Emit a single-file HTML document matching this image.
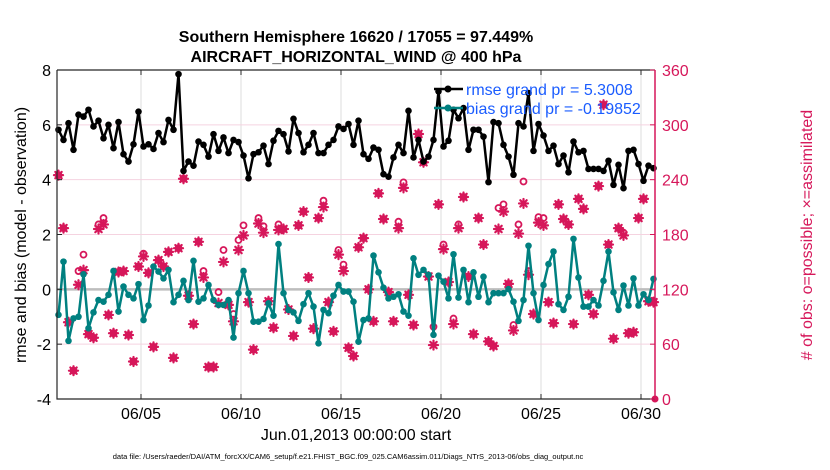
<!DOCTYPE html>
<html><head><meta charset="utf-8"><style>
html,body{margin:0;padding:0;background:#fff;}
svg{display:block;font-family:"Liberation Sans",sans-serif;}
</style></head><body>
<svg id="chart" width="830" height="470" viewBox="0 0 830 470" xmlns="http://www.w3.org/2000/svg">
<text x="356" y="42" text-anchor="middle" font-size="16" font-weight="bold">Southern Hemisphere 16620 / 17055 = 97.449%</text>
<text x="356" y="62" text-anchor="middle" font-size="16" font-weight="bold">AIRCRAFT_HORIZONTAL_WIND @ 400 hPa</text>
<g id="grid"></g>
<g id="marks"></g>
<g id="axes"></g>
<text transform="translate(26,235) rotate(-90)" text-anchor="middle" font-size="16">rmse and bias (model - observation)</text>
<text transform="translate(812,235) rotate(-90)" text-anchor="middle" font-size="16" fill="#d6175a"># of obs: o=possible; ×=assimilated</text>
<text x="356" y="440" text-anchor="middle" font-size="16">Jun.01,2013 00:00:00 start</text>
<text x="348" y="459" text-anchor="middle" font-size="7.5">data file: /Users/raeder/DAI/ATM_forcXX/CAM6_setup/f.e21.FHIST_BGC.f09_025.CAM6assim.011/Diags_NTrS_2013-06/obs_diag_output.nc</text>
<g>
<line x1="434" y1="89" x2="463" y2="89" stroke="#000" stroke-width="2.5"/>
<circle cx="448" cy="89" r="3.5" fill="#000"/>
<text x="466" y="95" font-size="16" fill="#1a5cff">rmse grand pr = 5.3008</text>
<line x1="434" y1="108" x2="463" y2="108" stroke="#008080" stroke-width="2.5"/>
<circle cx="448" cy="108" r="3.5" fill="#008080"/>
<text x="466" y="114" font-size="16" fill="#1a5cff">bias grand pr = -0.19852</text>
</g>
</svg>
<script>
const rmse=[5.82,5.45,6.06,5.09,6.37,6.30,6.55,5.94,6.15,5.51,6.00,5.15,6.10,4.93,4.66,5.29,6.48,5.21,5.29,5.12,5.70,5.37,6.18,5.82,7.85,4.32,4.66,4.51,5.39,5.27,4.84,
5.66,5.05,5.54,4.97,5.45,5.37,4.88,4.05,4.93,5.00,5.24,4.57,5.42,5.78,5.66,5.03,6.22,5.70,5.00,5.27,5.70,4.97,4.97,5.27,5.45,5.94,5.85,6.03,5.27,6.15,
4.93,4.76,5.17,5.09,4.20,4.11,4.81,5.27,4.97,6.51,4.81,5.45,4.66,4.84,5.45,7.22,5.21,5.42,6.55,6.24,6.61,5.09,5.82,5.82,5.57,3.91,6.10,6.06,5.27,4.84,
4.18,6.06,5.94,7.16,5.05,6.03,5.61,5.05,5.24,4.57,4.88,4.27,5.39,5.00,5.05,4.39,4.39,4.39,4.32,4.69,3.81,4.54,3.69,5.05,5.09,4.57,3.96,4.51,4.42];
const bias=[-0.93,1.01,-1.88,-1.06,-1.00,0.55,-1.42,-0.84,-0.39,-0.45,-0.20,0.67,-0.81,0.10,-0.20,-0.33,0.19,-1.12,-0.59,0.83,0.65,0.40,0.71,-0.47,-0.20,0.31,-0.39,1.04,-0.45,-0.33,0.16,
-0.39,-0.57,-0.57,-0.39,-1.76,-0.14,0.67,-0.14,-1.18,-1.18,-1.08,-0.51,-0.96,1.65,-0.14,-0.75,-0.84,-1.15,-0.54,-0.14,-0.63,-1.97,-0.75,-0.87,-0.23,0.16,-0.08,-0.08,-0.45,-1.91,
-1.12,-1.06,1.23,0.62,0.06,-0.33,-0.27,-0.18,-0.81,-0.96,1.13,0.53,0.71,0.53,-1.66,0.50,0.28,-0.33,1.28,-0.30,0.71,-0.47,0.62,-0.27,0.46,-0.47,-0.14,-0.14,-0.14,0.01,
-0.45,-1.15,-0.39,1.59,-0.14,-1.12,0.16,0.92,1.38,-0.54,-0.75,-0.27,1.84,0.43,-0.63,-0.63,-0.39,-0.59,0.31,1.38,-0.11,-0.75,0.14,-0.59,0.40,-0.59,-0.18,-0.39,0.38];
const nPossible=[245,187,84,31,140,158,71,67,191,198,92,72,139,140,70,41,145,159,138,57,152,145,161,45,165,241,113,82,172,140,35,
35,117,163,103,93,174,190,106,54,198,189,107,78,191,186,98,69,190,205,133,77,198,217,106,74,163,147,56,47,166,
176,120,85,225,197,117,85,194,237,114,81,290,259,134,79,213,169,128,88,191,221,134,71,198,169,63,58,209,213,126,
81,191,238,140,93,199,198,106,83,213,197,191,82,219,208,114,93,233,322,169,66,187,182,72,73,198,219,107,106];
const nAssim=[245,187,84,31,125,141,71,67,186,191,92,72,139,140,70,41,145,156,138,57,152,145,161,45,165,241,113,82,172,133,35,
35,105,150,103,85,163,179,106,54,192,182,107,78,185,186,98,69,190,205,133,77,198,210,106,74,158,140,56,47,166,
176,120,85,225,197,117,85,187,231,114,81,290,259,134,59,213,164,128,82,187,221,134,71,198,169,63,58,186,205,126,
75,181,214,136,93,193,190,106,83,213,197,191,82,219,208,114,93,233,322,169,66,187,179,72,73,198,219,107,106];
const xTickLabels=["06/05","06/10","06/15","06/20","06/25","06/30"];
const xTickDays=[4,9,14,19,24,29];
const yLeftTicks=[-4,-2,0,2,4,6,8];
const yRightTicks=[0,60,120,180,240,300,360];

const L=57,R=655,T=70,B=399;
const X=d=>61+d*20;
const dayOf=k=>-0.125+k*0.25;
const Y=v=>T+(8-v)/12*(B-T);
const YR=v=>B-v/360*(B-T);
const NS="http://www.w3.org/2000/svg";
function mk(tag,attrs,parent){const e=document.createElementNS(NS,tag);for(const a in attrs)e.setAttribute(a,attrs[a]);parent.appendChild(e);return e;}
const grid=document.getElementById('grid'),marks=document.getElementById('marks'),axes=document.getElementById('axes');

mk('rect',{x:L,y:T,width:R-L,height:B-T,fill:'#fff'},grid);
xTickDays.forEach(d=>{const g=mk('line',{x1:X(d),x2:X(d),y1:T,y2:B,stroke:'#dcdcdc','stroke-width':1},grid);

});
yRightTicks.forEach(v=>{if(v>0&&v<360){const g=mk('line',{x1:L,x2:R,y1:YR(v),y2:YR(v),stroke:'#f5d3e0','stroke-width':1},grid);

}});
const zl=mk('line',{x1:L,x2:R,y1:Y(0),y2:Y(0),stroke:'#bdbdbd','stroke-width':2.5},grid);



nAssim.forEach((v,k)=>{const x=X(dayOf(k)),y=YR(v);const g=mk('g',{stroke:'#d6175a','stroke-width':2.2,'stroke-linecap':'round'},marks);


mk('line',{x1:x-4.5,x2:x+4.5,y1:y,y2:y},g);mk('line',{x1:x,x2:x,y1:y-4.5,y2:y+4.5},g);
mk('line',{x1:x-3.2,x2:x+3.2,y1:y-3.2,y2:y+3.2},g);mk('line',{x1:x-3.2,x2:x+3.2,y1:y+3.2,y2:y-3.2},g);});
nPossible.forEach((v,k)=>{const c=mk('circle',{cx:X(dayOf(k)),cy:YR(v),r:3,fill:'none',stroke:'#d6175a','stroke-width':1.8},marks);

});
const last=mk('circle',{cx:R,cy:YR(0),r:3.5,fill:'#d6175a'},marks);



function series(vals,color,name){
 const p=mk('polyline',{points:vals.map((v,k)=>X(dayOf(k))+','+Y(v)).join(' '),fill:'none',stroke:color,'stroke-width':2.5,'stroke-linejoin':'round'},marks);
 
 
 vals.forEach((v,k)=>{const c=mk('circle',{cx:X(dayOf(k)),cy:Y(v),r:3.3,fill:color},marks);
 
 });
}
series(bias,'#008080','bias');
series(rmse,'#000','rmse');

const fr=mk('path',{d:`M${L},${T}H${R}M${L},${T}V${B}H${R}`,fill:'none',stroke:'#262626','stroke-width':1.2},axes);


const ra=mk('line',{x1:R,x2:R,y1:T,y2:B,stroke:'#d6175a','stroke-width':1.5},axes);


yLeftTicks.forEach(v=>{mk('line',{x1:L,x2:L+5,y1:Y(v),y2:Y(v),stroke:'#262626'},axes);
const t=mk('text',{x:L-6,y:Y(v)+6,'text-anchor':'end','font-size':16},axes);t.textContent=v;

});
yRightTicks.forEach(v=>{mk('line',{x1:R-5,x2:R,y1:YR(v),y2:YR(v),stroke:'#d6175a'},axes);
const t=mk('text',{x:R+7,y:YR(v)+6,'font-size':16,fill:'#d6175a'},axes);t.textContent=v;

});
xTickDays.forEach((d,i)=>{mk('line',{x1:X(d),x2:X(d),y1:B,y2:B-5,stroke:'#262626'},axes);
mk('line',{x1:X(d),x2:X(d),y1:T,y2:T+5,stroke:'#262626'},axes);
const t=mk('text',{x:X(d),y:B+20,'text-anchor':'middle','font-size':16},axes);t.textContent=xTickLabels[i];

});
</script>
</body></html>
